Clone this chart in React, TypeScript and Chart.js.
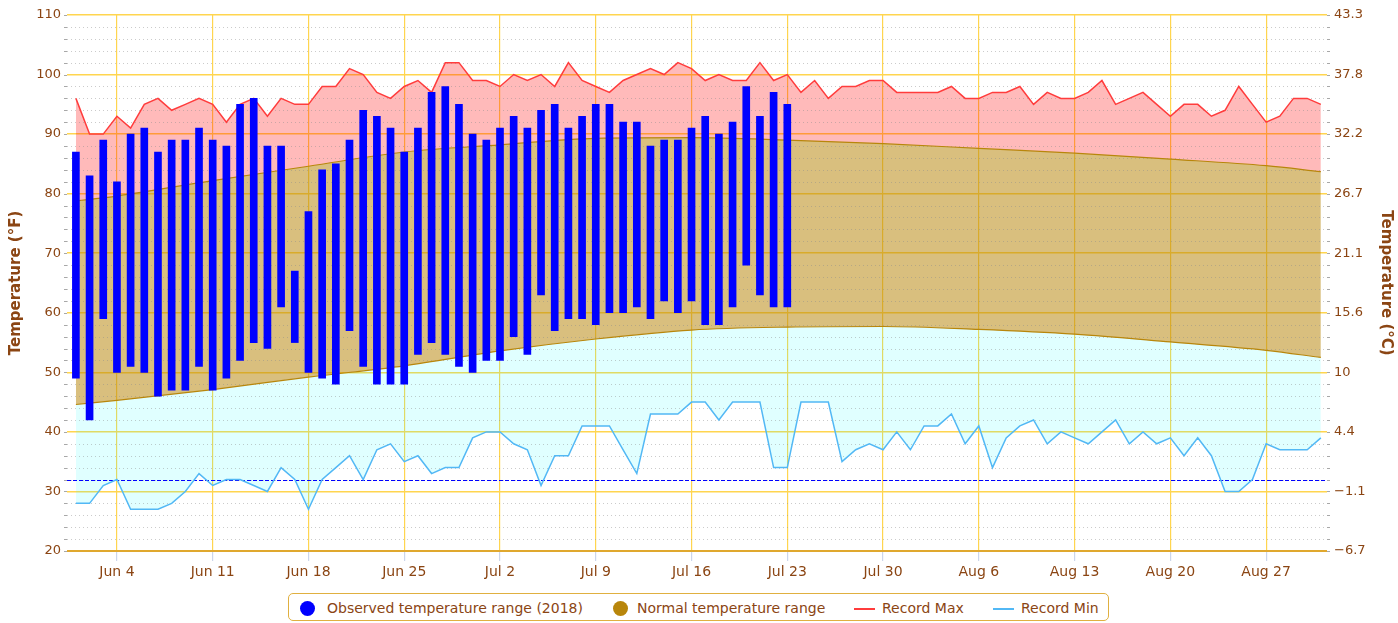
import React, { useEffect, useRef } from 'react';
import { Chart, registerables } from 'chart.js';

Chart.register(...registerables);

// ---- Data (index 0 = Jun 1, index 91 = Aug 31) ----
const TICK_DAYS = [3, 10, 17, 24, 31, 38, 45, 52, 59, 66, 73, 80, 87];
const TICK_LABELS = ['Jun 4', 'Jun 11', 'Jun 18', 'Jun 25', 'Jul 2', 'Jul 9', 'Jul 16', 'Jul 23', 'Jul 30', 'Aug 6', 'Aug 13', 'Aug 20', 'Aug 27'];

// Observed 2018 (Jun 1 .. Jul 23)
const OBS_HIGH = [87, 83, 89, 82, 90, 91, 87, 89, 89, 91, 89, 88, 95, 96, 88, 88, 67, 77, 84, 85, 89, 94, 93, 91, 87, 91, 97, 98, 95, 90, 89, 91, 93, 91, 94, 95, 91, 93, 95, 95, 92, 92, 88, 89, 89, 91, 93, 90, 92, 98, 93, 97, 95];
const OBS_LOW = [49, 42, 59, 50, 51, 50, 46, 47, 47, 51, 47, 49, 52, 55, 54, 61, 55, 50, 49, 48, 57, 51, 48, 48, 48, 53, 55, 53, 51, 50, 52, 52, 56, 53, 63, 57, 59, 59, 58, 60, 60, 61, 59, 62, 60, 62, 58, 58, 61, 68, 63, 61, 61];

// Records (Jun 1 .. Aug 31)
const RECORD_MAX = [96, 90, 90, 93, 91, 95, 96, 94, 95, 96, 95, 92, 95, 96, 93, 96, 95, 95, 98, 98, 101, 100, 97, 96, 98, 99, 97, 102, 102, 99, 99, 98, 100, 99, 100, 98, 102, 99, 98, 97, 99, 100, 101, 100, 102, 101, 99, 100, 99, 99, 102, 99, 100, 97, 99, 96, 98, 98, 99, 99, 97, 97, 97, 97, 98, 96, 96, 97, 97, 98, 95, 97, 96, 96, 97, 99, 95, 96, 97, 95, 93, 95, 95, 93, 94, 98, 95, 92, 93, 96, 96, 95];
const RECORD_MIN = [28, 28, 31, 32, 27, 27, 27, 28, 30, 33, 31, 32, 32, 31, 30, 34, 32, 27, 32, 34, 36, 32, 37, 38, 35, 36, 33, 34, 34, 39, 40, 40, 38, 37, 31, 36, 36, 41, 41, 41, 37, 33, 43, 43, 43, 45, 45, 42, 45, 45, 45, 34, 34, 45, 45, 45, 35, 37, 38, 37, 40, 37, 41, 41, 43, 38, 41, 34, 39, 41, 42, 38, 40, 39, 38, 40, 42, 38, 40, 38, 39, 36, 39, 36, 30, 30, 32, 38, 37, 37, 37, 39];

// Normals (read at these day indices)
const NORMAL_DAYS = [0, 3, 10, 17, 24, 31, 38, 45, 52, 59, 66, 73, 80, 87, 91];
const NORMAL_HIGH = [78.8, 79.6, 82.2, 84.6, 87.0, 88.2, 89.3, 89.4, 89.0, 88.4, 87.6, 86.8, 85.8, 84.7, 83.7];
const NORMAL_LOW = [44.6, 45.3, 47.1, 49.2, 51.1, 53.6, 55.6, 57.1, 57.6, 57.7, 57.2, 56.4, 55.1, 53.7, 52.5];

const FREEZING_F = 32;
const Y_MIN = 20;
const Y_MAX = 110;
const Y_STEP = 10;
const Y_MINOR = 2;
const X_MIN = -0.65;
const X_MAX = 91.45;

const BROWN_TEXT = '#8B4513';
const FONT = '"DejaVu Sans", sans-serif';

const decorPlugin = {
  id: 'decor',
  beforeDatasetsDraw(chart: any) {
    const { ctx, chartArea: a, scales } = chart;
    const y = scales.y;
    ctx.save();
    ctx.lineWidth = 1;
    for (let v = Y_MIN; v <= Y_MAX; v += Y_MINOR) {
      const py = Math.round(y.getPixelForValue(v)) + 0.5;
      if (v % Y_STEP !== 0) {
        ctx.strokeStyle = 'rgba(140,140,140,0.45)';
        ctx.setLineDash([1, 3]);
        ctx.beginPath();
        ctx.moveTo(a.left, py);
        ctx.lineTo(a.right, py);
        ctx.stroke();
      }
      ctx.setLineDash([]);
      ctx.strokeStyle = 'rgba(110,110,110,0.6)';
      ctx.beginPath();
      ctx.moveTo(a.left - 3, py);
      ctx.lineTo(a.left, py);
      ctx.moveTo(a.right, py);
      ctx.lineTo(a.right + 3, py);
      ctx.stroke();
    }
    // freezing line
    const fy = Math.round(y.getPixelForValue(FREEZING_F)) + 0.5;
    ctx.strokeStyle = '#0000ff';
    ctx.setLineDash([4, 2]);
    ctx.beginPath();
    ctx.moveTo(a.left, fy);
    ctx.lineTo(a.right, fy);
    ctx.stroke();
    ctx.restore();
  },
};

function App() {
  const ref = useRef<HTMLCanvasElement | null>(null);

  useEffect(() => {
    if (!ref.current) return;
    Chart.defaults.font.family = FONT;
    const recDays = RECORD_MAX.map((_, i) => i);
    const obsDays = OBS_HIGH.map((_, i) => i);
    const chart = new Chart(ref.current, {
      type: 'bar',
      data: {
        datasets: [
          {
            type: 'bar',
            label: 'Observed temperature range (2018)',
            data: obsDays.map((d, i) => ({ x: d, y: [OBS_LOW[i], OBS_HIGH[i]] })) as any,
            backgroundColor: '#0000ff',
            borderWidth: 0,
            barThickness: 7,
            order: 0,
          },
          {
            type: 'line',
            label: 'Record Max',
            data: recDays.map((d, i) => ({ x: d, y: RECORD_MAX[i] })),
            borderColor: '#ff3c3c',
            borderWidth: 1.5,
            pointRadius: 0,
            tension: 0,
            fill: { target: 2, above: 'rgba(255,0,0,0.27)', below: 'rgba(255,0,0,0.27)' },
            order: 2,
          },
          {
            type: 'line',
            label: 'Normal High',
            data: NORMAL_DAYS.map((d, i) => ({ x: d, y: NORMAL_HIGH[i] })),
            borderColor: '#b8860b',
            borderWidth: 1.2,
            pointRadius: 0,
            cubicInterpolationMode: 'monotone',
            fill: { target: 3, above: 'rgba(184,134,11,0.53)', below: 'rgba(184,134,11,0.53)' },
            order: 3,
          },
          {
            type: 'line',
            label: 'Normal Low',
            data: NORMAL_DAYS.map((d, i) => ({ x: d, y: NORMAL_LOW[i] })),
            borderColor: '#b8860b',
            borderWidth: 1.2,
            pointRadius: 0,
            cubicInterpolationMode: 'monotone',
            fill: false,
            order: 3,
          },
          {
            type: 'line',
            label: 'Record Min',
            data: recDays.map((d, i) => ({ x: d, y: RECORD_MIN[i] })),
            borderColor: '#52b8f5',
            borderWidth: 1.5,
            pointRadius: 0,
            tension: 0,
            fill: { target: 3, above: 'rgba(0,255,255,0.12)', below: 'rgba(0,255,255,0.12)' },
            order: 2,
          },
        ],
      },
      options: {
        animation: false,
        responsive: false,
        devicePixelRatio: 1,
        layout: { padding: { top: 15, left: 0, right: 0, bottom: 0 } },
        plugins: {
          legend: { display: false },
          tooltip: { enabled: false },
          filler: { drawTime: 'beforeDatasetsDraw' },
        },
        scales: {
          x: {
            type: 'linear',
            min: X_MIN,
            max: X_MAX,
            offset: false,
            afterBuildTicks: (s: any) => {
              s.ticks = TICK_DAYS.map((v) => ({ value: v }));
            },
            afterFit: (s: any) => {
              s.height = 72;
            },
            ticks: {
              autoSkip: false,
              maxRotation: 0,
              color: BROWN_TEXT,
              font: { size: 14, family: FONT },
              padding: 3,
              callback: (v: any) => {
                const k = TICK_DAYS.indexOf(Number(v));
                return k >= 0 ? TICK_LABELS[k] : '';
              },
            },
            grid: {
              offset: false,
              color: '#ffd54f',
              lineWidth: 1.2,
              drawTicks: true,
              tickLength: 10,
              tickColor: '#ccd6eb',
            },
            border: { display: false },
          },
          y: {
            type: 'linear',
            position: 'left',
            min: Y_MIN,
            max: Y_MAX,
            afterFit: (s: any) => {
              s.width = 67;
            },
            ticks: {
              stepSize: Y_STEP,
              color: BROWN_TEXT,
              font: { size: 13, family: FONT },
              padding: 6,
            },
            grid: {
              color: (c: any) => (c.tick && c.tick.value === Y_MIN ? '#e0a82e' : '#ffd54f'),
              lineWidth: (c: any) => (c.tick && c.tick.value === Y_MIN ? 2 : 1.5),
              drawTicks: false,
            },
            border: { display: false },
            title: {
              display: true,
              text: 'Temperature (°F)',
              color: BROWN_TEXT,
              font: { size: 15, weight: 'bold', family: FONT },
              padding: { top: 7, bottom: 0 },
            },
          },
          y2: {
            type: 'linear',
            position: 'right',
            min: Y_MIN,
            max: Y_MAX,
            afterFit: (s: any) => {
              s.width = 71;
            },
            ticks: {
              stepSize: Y_STEP,
              color: BROWN_TEXT,
              font: { size: 13, family: FONT },
              padding: 7,
              callback: (v: any) => {
                const c = Math.round(((Number(v) - 32) * 5) / 9 * 10) / 10;
                return String(c).replace('-', '\u2212');
              },
            },
            grid: { drawOnChartArea: false, drawTicks: false },
            border: { display: false },
            title: {
              display: true,
              text: 'Temperature (°C)',
              color: BROWN_TEXT,
              font: { size: 15, weight: 'bold', family: FONT },
              padding: { top: 3, bottom: 0 },
            },
          },
        },
      } as any,
      plugins: [decorPlugin],
    });
    return () => chart.destroy();
  }, []);

  const textStyle = (left: number): React.CSSProperties => ({
    position: 'absolute',
    left,
    top: 600,
    font: `14px ${FONT}`,
    lineHeight: '17px',
    color: BROWN_TEXT,
    whiteSpace: 'nowrap',
  });
  const dot = (left: number, color: string): React.CSSProperties => ({
    position: 'absolute',
    left,
    top: 601,
    width: 15,
    height: 15,
    borderRadius: '50%',
    background: color,
  });
  const bar = (left: number, color: string): React.CSSProperties => ({
    position: 'absolute',
    left,
    top: 608,
    width: 21,
    height: 2,
    background: color,
  });

  return (
    <div style={{ position: 'fixed', left: 0, top: 0, width: 1398, height: 623, background: '#fff', overflow: 'hidden' }}>
      <canvas ref={ref} width={1398} height={623} style={{ display: 'block', width: 1398, height: 623 }} />
      <div
        style={{
          position: 'absolute',
          left: 288,
          top: 593,
          width: 821,
          height: 28,
          boxSizing: 'border-box',
          border: '1px solid #e0b040',
          borderRadius: 5,
          background: '#fff',
        }}
      />
      <div style={dot(300, '#0000ff')} />
      <span style={textStyle(327)}>Observed temperature range (2018)</span>
      <div style={dot(613, '#b8860b')} />
      <span style={textStyle(637)}>Normal temperature range</span>
      <div style={bar(854, '#ff3c3c')} />
      <span style={textStyle(882)}>Record Max</span>
      <div style={bar(993, '#52b8f5')} />
      <span style={textStyle(1021)}>Record Min</span>
    </div>
  );
}

export default App;
